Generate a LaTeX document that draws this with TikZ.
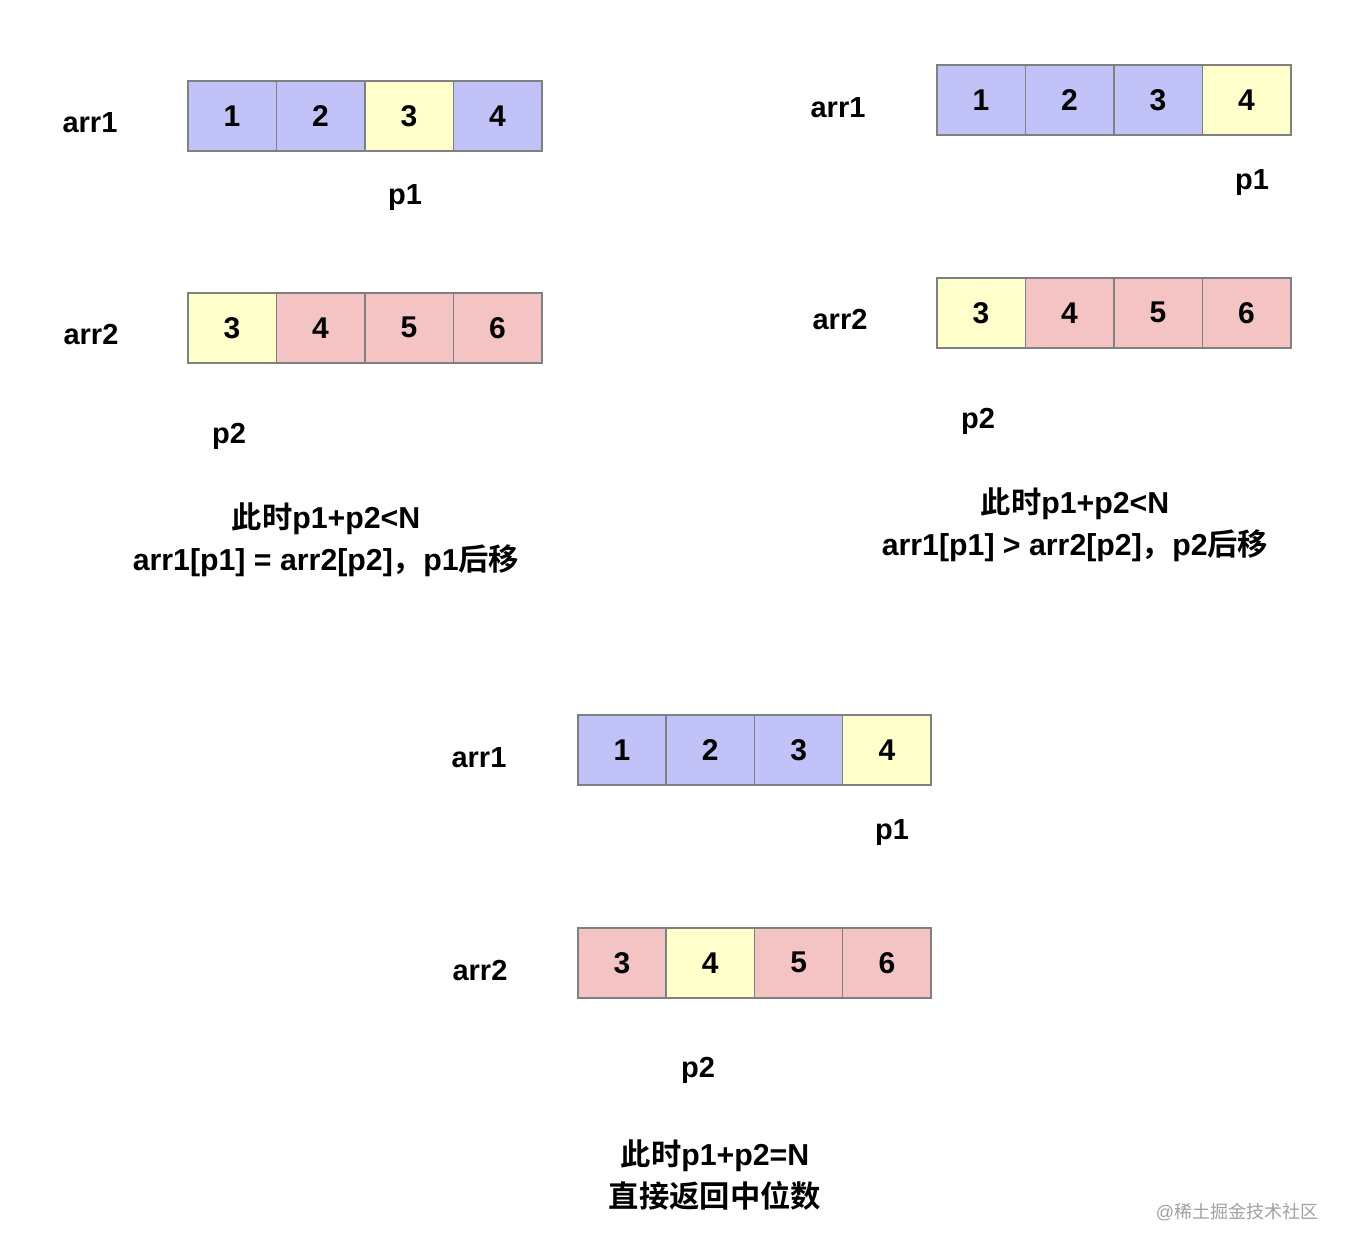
\documentclass[tikz,border=0pt]{standalone}
\usepackage{fontspec}
\setmainfont{Liberation Sans}
\newfontfamily\cjk{Noto Sans CJK SC}[BoldFont={* Bold}]
\usepackage{xcolor}
\usetikzlibrary{positioning}
\definecolor{cellblue}{RGB}{192, 194, 248}
\definecolor{cellyellow}{RGB}{255, 255, 204}
\definecolor{cellpink}{RGB}{244, 196, 196}
\definecolor{cellborder}{RGB}{128, 128, 128}
\definecolor{markgray}{RGB}{160, 160, 160}

\begin{document}
\begin{tikzpicture}[x=1pt, y=-1pt,
    cell/.style={rectangle, draw=cellborder, line width=1.5pt, minimum width=88.5pt, minimum height=70pt, inner sep=0pt, anchor=north west, font=\fontsize{30}{36}\selectfont\bfseries},
    lbl/.style={inner sep=0pt, font=\fontsize{29}{34}\selectfont\bfseries},
    capbox/.style={align=center, inner sep=0pt, font=\fontsize{30.3}{42}\selectfont\bfseries}]
    \useasboundingbox (0,0) rectangle (1348,1254);

    % step 1: arr1[p1] = arr2[p2]
    \foreach \v/\c [count=\i] in {1/cellblue, 2/cellblue, 3/cellyellow, 4/cellblue}
        \node [cell, fill=\c] (ua\i) at ({187+88.5*(\i-1)}, 80) {\v};
    \foreach \v/\c [count=\i] in {3/cellyellow, 4/cellpink, 5/cellpink, 6/cellpink}
        \node [cell, fill=\c] (ub\i) at ({187+88.5*(\i-1)}, 292) {\v};
    \node [lbl] (uarr1) at (90, 123) {arr1};
    \node [lbl] (uarr2) at (91, 335) {arr2};
    \node [lbl] (up1) at (405, 198) {p1};
    \node [lbl] (up2) at (229, 436) {p2};
    \node [capbox] (ucap) at (326, 540) {{\cjk 此时}p1+p2<N\\arr1[p1] = arr2[p2]{\cjk ，}p1{\cjk 后移}};

    % step 2: arr1[p1] > arr2[p2]
    \foreach \v/\c [count=\i] in {1/cellblue, 2/cellblue, 3/cellblue, 4/cellyellow}
        \node [cell, fill=\c] (va\i) at ({936+88.5*(\i-1)}, 64) {\v};
    \foreach \v/\c [count=\i] in {3/cellyellow, 4/cellpink, 5/cellpink, 6/cellpink}
        \node [cell, fill=\c] (vb\i) at ({936+88.5*(\i-1)}, 277) {\v};
    \node [lbl] (varr1) at (838, 108) {arr1};
    \node [lbl] (varr2) at (840, 320) {arr2};
    \node [lbl] (vp1) at (1252, 183) {p1};
    \node [lbl] (vp2) at (978, 421) {p2};
    \node [capbox] (vcap) at (1075, 525) {{\cjk 此时}p1+p2<N\\arr1[p1] > arr2[p2]{\cjk ，}p2{\cjk 后移}};

    % step 3: p1+p2 = N
    \foreach \v/\c [count=\i] in {1/cellblue, 2/cellblue, 3/cellblue, 4/cellyellow}
        \node [cell, fill=\c] (wa\i) at ({577+88.3*(\i-1)}, 714) {\v};
    \foreach \v/\c [count=\i] in {3/cellpink, 4/cellyellow, 5/cellpink, 6/cellpink}
        \node [cell, fill=\c] (wb\i) at ({577+88.3*(\i-1)}, 927) {\v};
    \node [lbl] (warr1) at (479, 758) {arr1};
    \node [lbl] (warr2) at (480, 970) {arr2};
    \node [lbl] (wp1) at (892, 833) {p1};
    \node [lbl] (wp2) at (698, 1070) {p2};
    \node [capbox] (wcap) at (715, 1175) {{\cjk 此时}p1+p2=N\\{\cjk 直接返回中位数}};

    \node [text=markgray, inner sep=0pt, font=\fontsize{18}{20}\selectfont] (mark) at (1237, 1212) {@{\cjk 稀土掘金技术社区}};
\end{tikzpicture}
\end{document}
